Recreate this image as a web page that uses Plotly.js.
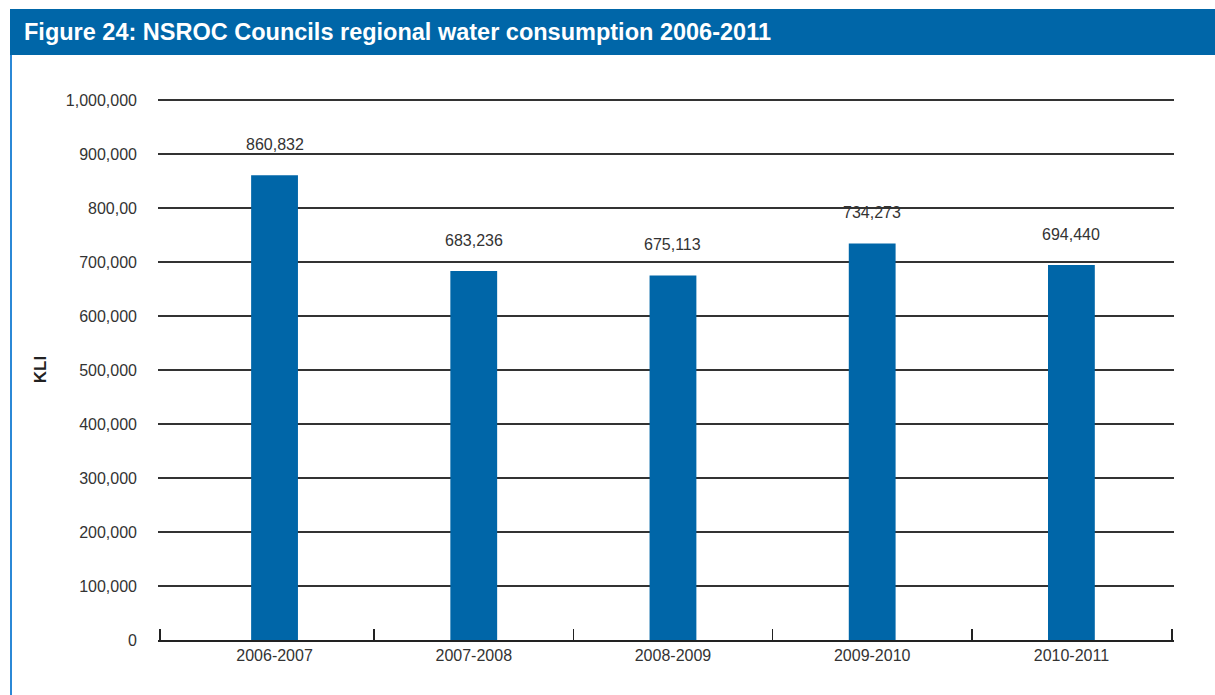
<!DOCTYPE html>
<html>
<head>
<meta charset="utf-8">
<script src="https://cdn.plot.ly/plotly-3.0.1.min.js"></script>
<style>
html,body{margin:0;padding:0;background:#fff;}
#chart{width:1215px;height:695px;}
</style>
</head>
<body>
<div id="chart"></div>
<script>
const categories = ["2006-2007", "2007-2008", "2008-2009", "2009-2010", "2010-2011"];
const values = [860832, 683236, 675113, 734273, 694440];
const valueLabels = ["860,832", "683,236", "675,113", "734,273", "694,440"];
const yTickVals = [0, 100000, 200000, 300000, 400000, 500000, 600000, 700000, 800000, 900000, 1000000];
const yTickText = ["0", "100,000", "200,000", "300,000", "400,000", "500,000", "600,000", "700,000", "800,00", "900,000", "1,000,000"];
const chartTitle = "Figure 24: NSROC Councils regional water consumption 2006-2011";
const yTitle = "KLl";

const W = 1215, H = 695;
const L = 158, R = 1174, T = 99, B = 640;
const xRange = [-0.585, 4.515];
const boundaries = [-0.574, 0.5, 1.5, 2.5, 3.5, 4.505];
const px2x = p => (p - L) / (R - L);
const py2y = p => (B - p) / (B - T);

const textColor = "#333333";
const blue = "#0066a8";
const fontFam = "Liberation Sans, Arial, sans-serif";

const idx = categories.map((c, i) => i);

const data = [
  {
    type: "bar",
    x: idx,
    y: values,
    width: 0.235,
    marker: {color: blue},
    hoverinfo: "skip",
    showlegend: false
  },
  {
    type: "scatter",
    x: boundaries,
    y: boundaries.map(() => 0),
    xaxis: "x2",
    mode: "none",
    hoverinfo: "skip",
    showlegend: false
  }
];

const annotations = values.map((v, i) => ({
  x: i, y: v, xref: "x", yref: "y",
  text: valueLabels[i],
  showarrow: false,
  yanchor: "middle",
  yshift: 31,
  font: {family: fontFam, size: 16, color: textColor}
}));

const layout = {
  width: W, height: H,
  margin: {l: L, r: W - R, t: T, b: H - B},
  paper_bgcolor: "#ffffff",
  plot_bgcolor: "#ffffff",
  font: {family: fontFam, size: 16, color: textColor},
  title: {
    text: "<b>" + chartTitle + "</b>",
    font: {family: fontFam, size: 23.5, color: "#ffffff"},
    x: 24 / W, xanchor: "left", xref: "container",
    y: 1 - 32 / H, yanchor: "middle", yref: "container"
  },
  xaxis: {
    type: "linear",
    range: xRange,
    tickvals: idx,
    ticktext: categories,
    ticks: "",
    showgrid: false,
    zeroline: false,
    showline: true,
    linecolor: "#222222",
    linewidth: 2,
    tickfont: {size: 16, color: textColor},
    fixedrange: true
  },
  xaxis2: {
    overlaying: "x",
    anchor: "y",
    side: "bottom",
    type: "linear",
    range: xRange,
    tickvals: boundaries,
    ticks: "inside",
    ticklen: 11,
    tickwidth: 1.5,
    tickcolor: "#222222",
    showticklabels: false,
    showgrid: false,
    zeroline: false,
    showline: false
  },
  yaxis: {
    range: [0, 1002000],
    tickvals: yTickVals,
    ticktext: yTickText,
    ticks: "",
    ticklabelstandoff: 20,
    showgrid: true,
    gridcolor: "#333333",
    gridwidth: 1.5,
    zeroline: false,
    showline: false,
    tickfont: {size: 16, color: textColor},
    title: {
      text: "<b>" + yTitle + "</b>",
      font: {size: 17, color: "#222222"},
      standoff: 14
    },
    fixedrange: true
  },
  annotations: annotations,
  shapes: [
    {
      type: "rect", xref: "paper", yref: "paper", layer: "below",
      x0: px2x(10), x1: px2x(1216), y0: py2y(55), y1: py2y(9),
      fillcolor: blue, line: {width: 0}
    },
    {
      type: "line", xref: "paper", yref: "paper",
      x0: px2x(11), x1: px2x(11), y0: py2y(55), y1: py2y(696),
      line: {color: "#2b88d6", width: 2}
    }
  ]
};

Plotly.newPlot("chart", data, layout, {staticPlot: true, displayModeBar: false});
</script>
</body>
</html>
